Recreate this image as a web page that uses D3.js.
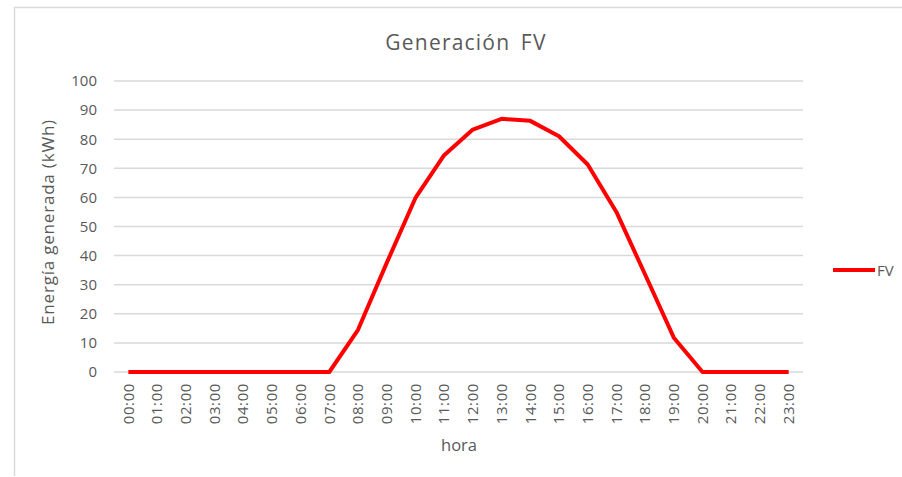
<!DOCTYPE html>
<html><head><meta charset="utf-8">
<script src="https://cdn.jsdelivr.net/npm/d3@7"></script>
<style>body{margin:0;background:#fff;} svg{display:block;}</style>
</head><body>
<svg id="c" width="902" height="477"></svg>
<script>
const hours = ["00:00","01:00","02:00","03:00","04:00","05:00","06:00","07:00","08:00","09:00","10:00","11:00","12:00","13:00","14:00","15:00","16:00","17:00","18:00","19:00","20:00","21:00","22:00","23:00"];
const fv = [0,0,0,0,0,0,0,0,14.5,37.5,59.8,74.5,83.3,87,86.3,81,71.3,55,33.5,11.8,0,0,0,0];
const yTicks = [0,10,20,30,40,50,60,70,80,90,100];
const title = "Generación FV";
const yTitle = "Energía generada (kWh)";
const xTitle = "hora";
const seriesName = "FV";

const svg = d3.select("#c");
const font = "'Open Sans', sans-serif";
const grey = "#595959";
const m = {left:114, right:803, top:81, bottom:372};

svg.append("rect").attr("width",902).attr("height",477).attr("fill","#fff");
svg.append("path").attr("d","M14.5,476 L14.5,7.5 L902,7.5").attr("fill","none").attr("stroke","#d9d9d9").attr("stroke-width",1.5);

const x = d3.scaleBand().domain(hours).range([m.left,m.right]);
const y = d3.scaleLinear().domain([0,100]).range([m.bottom,m.top]);

// gridlines
svg.append("g").selectAll("line").data(yTicks).join("line")
  .attr("x1",m.left).attr("x2",m.right)
  .attr("y1",d=>y(d)).attr("y2",d=>y(d))
  .attr("stroke","#d9d9d9").attr("stroke-width",1.5);

// y axis labels
const yAxis = svg.append("g").attr("transform",`translate(${m.left-17},0)`)
  .call(d3.axisLeft(y).tickValues(yTicks).tickSize(0).tickPadding(0));
yAxis.select(".domain").remove();
yAxis.selectAll("text").attr("font-family",font).attr("font-size",15).attr("fill",grey);

// x axis labels
const xAxis = svg.append("g").attr("transform",`translate(0,${m.bottom})`)
  .call(d3.axisBottom(x).tickSize(0).tickPadding(0));
xAxis.select(".domain").remove();
xAxis.selectAll("text")
  .attr("font-family",font).attr("font-size",15).attr("fill",grey)
  .attr("letter-spacing",0.6)
  .attr("transform","rotate(-90)")
  .attr("text-anchor","end").attr("dy","0.35em").attr("x",-11).attr("y",0);

// line
const line = d3.line().x((d,i)=>x(hours[i])+x.bandwidth()/2).y(d=>y(d));
svg.append("path").datum(fv).attr("d",line)
  .attr("fill","none").attr("stroke","#ff0000").attr("stroke-width",4).attr("stroke-linejoin","round");

// titles
svg.append("text").attr("x",466).attr("y",50).attr("text-anchor","middle")
  .attr("font-family",font).attr("font-size",21).attr("letter-spacing",1.2).attr("word-spacing",4)
  .attr("fill",grey).text(title);
svg.append("text").attr("transform","translate(54,222) rotate(-90)").attr("text-anchor","middle")
  .attr("font-family",font).attr("font-size",17).attr("letter-spacing",0.8).attr("fill",grey).text(yTitle);
svg.append("text").attr("x",459).attr("y",451).attr("text-anchor","middle")
  .attr("font-family",font).attr("font-size",16.5).attr("fill",grey).text(xTitle);

// legend
svg.append("line").attr("x1",833).attr("x2",875).attr("y1",270).attr("y2",270)
  .attr("stroke","#ff0000").attr("stroke-width",4);
svg.append("text").attr("x",877).attr("y",275.5).attr("font-family",font).attr("font-size",15)
  .attr("fill",grey).text(seriesName);
</script>
</body></html>
